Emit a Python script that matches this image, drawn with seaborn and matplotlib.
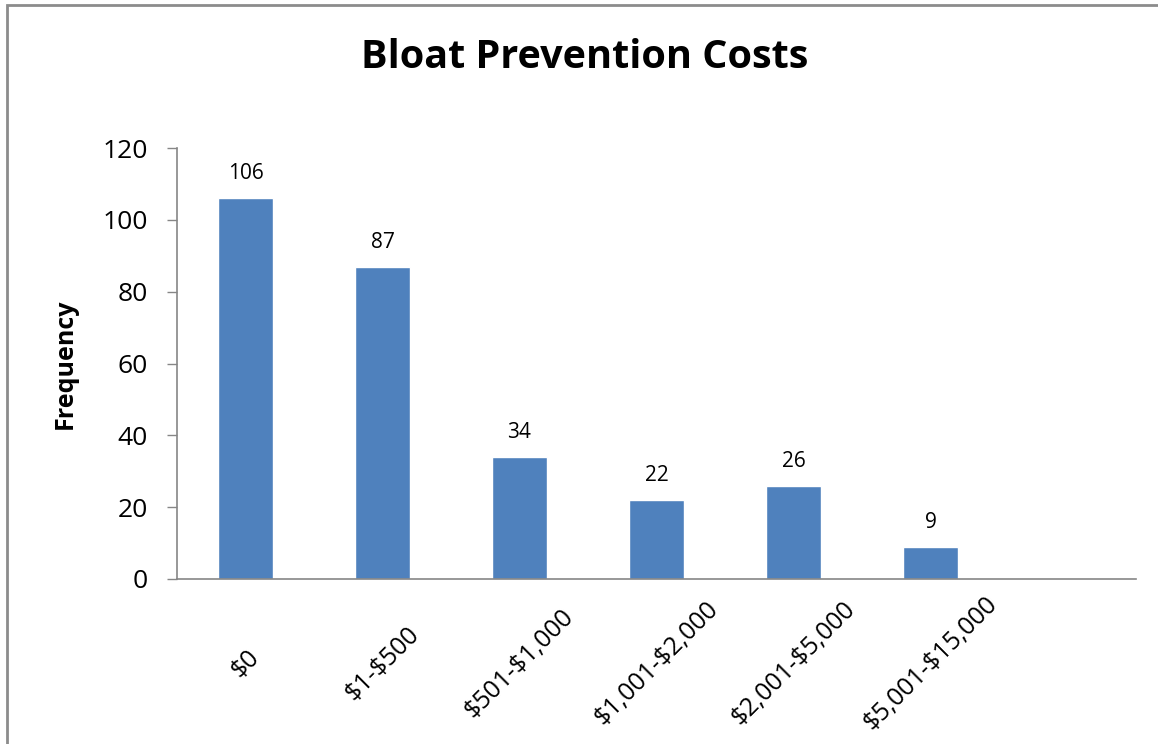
import matplotlib
matplotlib.use("Agg")
import matplotlib.pyplot as plt
from matplotlib.patches import Rectangle
import pandas as pd
import seaborn as sns

cost_bins = ["$0", "$1-$500", "$501-$1,000", "$1,001-$2,000", "$2,001-$5,000", "$5,001-$15,000"]
frequency = [106, 87, 34, 22, 26, 9]
y_ticks = [0, 20, 40, 60, 80, 100, 120]

sns.set_style("white")
plt.rcParams["font.family"] = ["Open Sans", "DejaVu Sans"]
plt.rcParams["text.parse_math"] = False
plt.rcParams["text.color"] = "black"
plt.rcParams["xtick.color"] = "black"
plt.rcParams["ytick.color"] = "black"
plt.rcParams["axes.labelcolor"] = "black"

df = pd.DataFrame({"bin": cost_bins, "freq": frequency})

fig = plt.figure(figsize=(11.58, 7.44), dpi=100)
ax = fig.add_axes([177 / 1158, 1 - 579 / 744, (1136 - 177) / 1158, (579 - 148) / 744])

sns.barplot(data=df, x="bin", y="freq", color="#4F81BD", width=0.4, saturation=1, ax=ax)
ax.bar_label(ax.containers[0], padding=10, fontsize=15, color="black")

ax.set_xlim(-0.5, 6.5)
ax.set_ylim(0, 120)
ax.set_yticks(y_ticks)
ax.tick_params(axis="y", length=7, width=1, color="#868686", labelcolor="black", pad=14, labelsize=19, left=True)
ax.tick_params(axis="x", length=0, pad=61, labelsize=18, labelcolor="black")
for lbl in ax.get_xticklabels():
    lbl.set_rotation(45)
    lbl.set_ha("center")
    lbl.set_va("center")

sns.despine(ax=ax)
for side in ["left", "bottom"]:
    ax.spines[side].set_color("#868686")
    ax.spines[side].set_linewidth(1.2)

ax.set_xlabel("")
ax.set_ylabel("Frequency", fontsize=18, fontweight="bold", labelpad=18)

fig.text(585 / 1158, 1 - 57 / 744, "Bloat Prevention Costs", fontsize=28.5, fontweight="bold",
         ha="center", va="center")

fig.patches.append(Rectangle((7 / 1158, -0.1), 1.2, 1.1 - 5 / 744, transform=fig.transFigure,
                             fill=False, edgecolor="#8c8c8c", linewidth=2))

fig.savefig("out.png", dpi=100)
